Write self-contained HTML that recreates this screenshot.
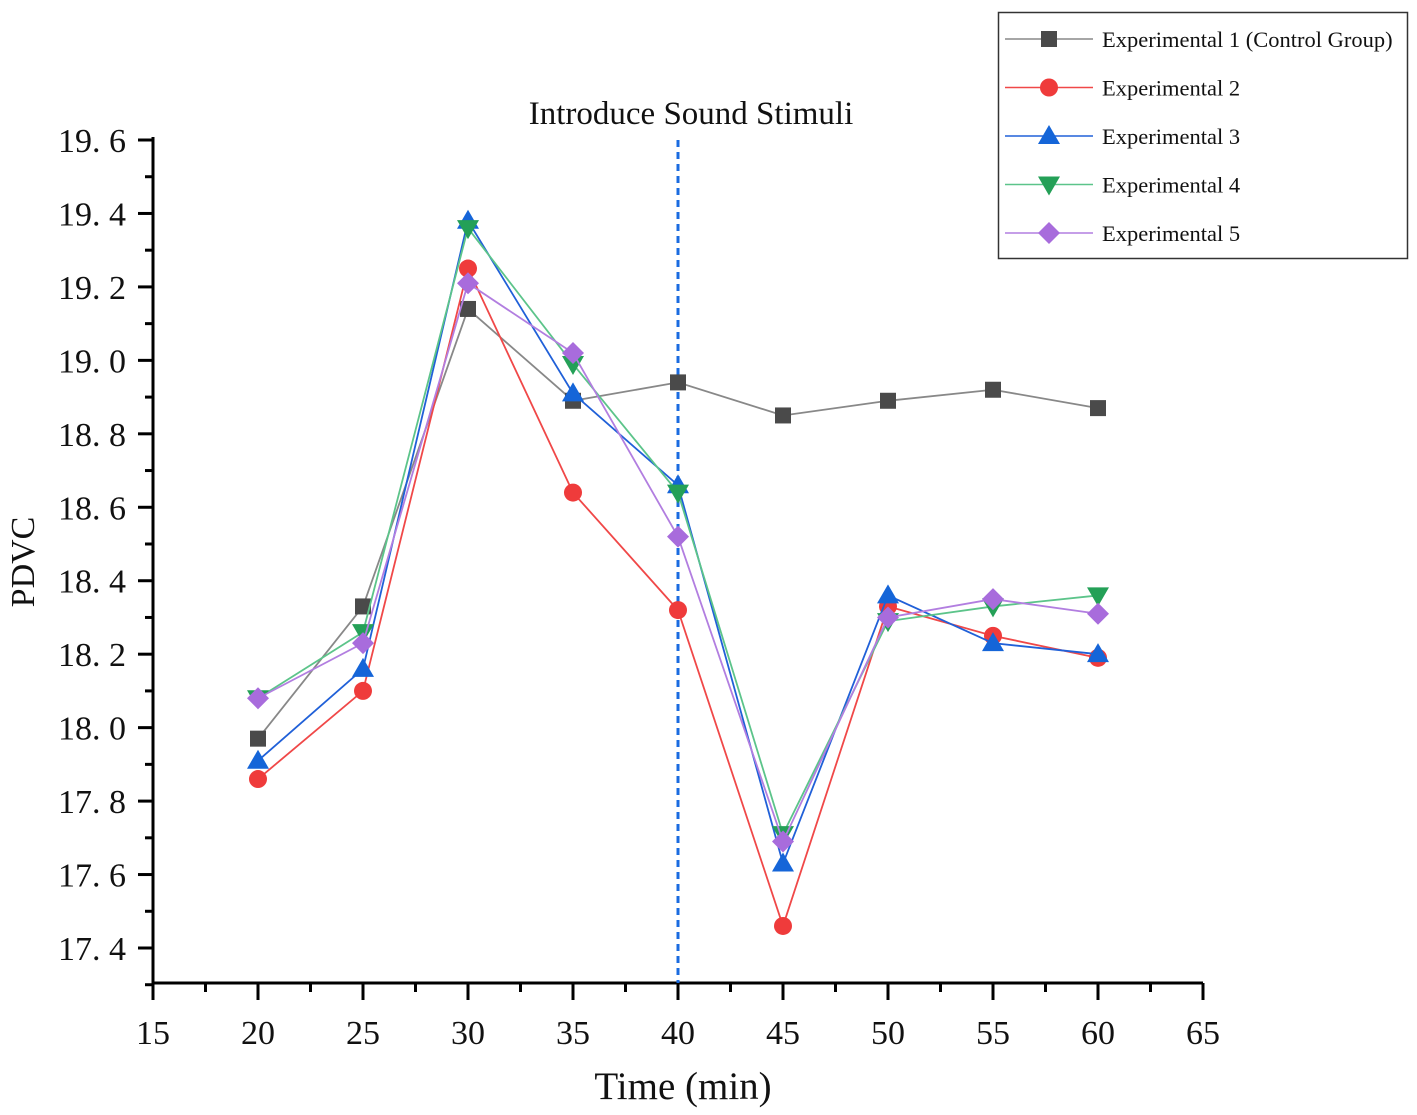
<!DOCTYPE html>
<html><head><meta charset="utf-8"><style>
body{margin:0;background:#fff}
svg{display:block}
text{font-family:"Liberation Serif","Noto Serif CJK SC",serif;fill:#111}
</style></head><body>
<svg id="chart" width="1417" height="1115" viewBox="0 0 1417 1115" xmlns="http://www.w3.org/2000/svg">
<g id="axes"></g>
<g id="series"></g>
<text x="691" y="124" font-size="33" text-anchor="middle">Introduce Sound Stimuli</text>
<text x="683" y="1099" font-size="39" text-anchor="middle">Time (min)</text>
<text x="0" y="0" font-size="34" text-anchor="middle" transform="translate(34,562) rotate(-90)">PDVC</text>
<g id="legend"></g>
</svg>
<script>
const categories=[20,25,30,35,40,45,50,55,60];
const seriesNames=["Experimental 1 (Control Group)","Experimental 2","Experimental 3","Experimental 4","Experimental 5"];
const exp1=[17.97,18.33,19.14,18.89,18.94,18.85,18.89,18.92,18.87];
const exp2=[17.86,18.10,19.25,18.64,18.32,17.46,18.33,18.25,18.19];
const exp3=[17.91,18.16,19.38,18.91,18.66,17.63,18.36,18.23,18.20];
const exp4=[18.08,18.26,19.36,18.99,18.64,17.71,18.29,18.33,18.36];
const exp5=[18.08,18.23,19.21,19.02,18.52,17.69,18.30,18.35,18.31];
const xTicks=[15,20,25,30,35,40,45,50,55,60,65];
const yTicks=[17.4,17.6,17.8,18.0,18.2,18.4,18.6,18.8,19.0,19.2,19.4,19.6];
const yTickLabels=["17. 4","17. 6","17. 8","18. 0","18. 2","18. 4","18. 6","18. 8","19. 0","19. 2","19. 4","19. 6"];
const stimulusTime=40;

const NS="http://www.w3.org/2000/svg";
const X0=153,X1=1203,Y0=983;
const xs=v=>X0+(v-15)*(X1-X0)/50;
const ys=v=>948-(v-17.4)*(948-140)/2.2;
function el(tag,attrs,parent){const e=document.createElementNS(NS,tag);for(const k in attrs)e.setAttribute(k,attrs[k]);parent.appendChild(e);return e;}
const axes=document.getElementById('axes');
let a=el('line',{x1:X0,y1:Y0,x2:X1,y2:Y0,stroke:'#000','stroke-width':3},axes);


a=el('line',{x1:X0,y1:Y0,x2:X0,y2:ys(19.6)-3,stroke:'#000','stroke-width':3},axes);


for(let i=0;i<xTicks.length;i++){
  const x=xs(xTicks[i]);
  el('line',{x1:x,y1:Y0,x2:x,y2:Y0+17,stroke:'#000','stroke-width':3},axes);
  if(i<xTicks.length-1){const xm=xs(xTicks[i]+2.5);el('line',{x1:xm,y1:Y0,x2:xm,y2:Y0+9,stroke:'#000','stroke-width':3},axes);}
  const t=el('text',{x:x,y:1044,'font-size':34,'text-anchor':'middle'},axes);t.textContent=xTicks[i];
  
  
}
for(let i=0;i<yTicks.length;i++){
  const y=ys(yTicks[i]);
  el('line',{x1:X0-15,y1:y,x2:X0,y2:y,stroke:'#000','stroke-width':3},axes);
  const ym=ys(yTicks[i]-0.1);el('line',{x1:X0-8,y1:ym,x2:X0,y2:ym,stroke:'#000','stroke-width':3},axes);
  const t=el('text',{x:126,y:y+12,'font-size':34,'text-anchor':'end'},axes);t.textContent=yTickLabels[i];
  
  
}
const vl=el('line',{x1:xs(stimulusTime),y1:140,x2:xs(stimulusTime),y2:Y0,stroke:'#1a6be0','stroke-width':3,'stroke-dasharray':'7,5'},axes);



const data=[exp1,exp2,exp3,exp4,exp5];
const lineColors=['#888','#f04848','#2060d8','#5cc48a','#b27ee0'];
const markColors=['#4a4a4a','#ef3b3b','#1565d8','#24a057','#a86cdc'];
const shapes=['square','circle','tri','tridown','diamond'];
function marker(g,shape,x,y,c){
  let m;
  if(shape==='square')m=el('rect',{x:x-8,y:y-8,width:16,height:16,fill:c},g);
  else if(shape==='circle')m=el('circle',{cx:x,cy:y,r:9,fill:c},g);
  else if(shape==='tri')m=el('polygon',{points:`${x},${y-11} ${x-11},${y+8} ${x+11},${y+8}`,fill:c},g);
  else if(shape==='tridown')m=el('polygon',{points:`${x},${y+11} ${x-11},${y-8} ${x+11},${y-8}`,fill:c},g);
  else m=el('polygon',{points:`${x},${y-11} ${x+11},${y} ${x},${y+11} ${x-11},${y}`,fill:c},g);
  return m;
}
const sg=document.getElementById('series');
data.forEach((vals,si)=>{
  const g=el('g',{},sg);
  
  
  const pl=el('polyline',{points:vals.map((v,i)=>xs(categories[i])+','+ys(v)).join(' '),fill:'none',stroke:lineColors[si],'stroke-width':1.8},g);
  
  
  vals.forEach((v,i)=>{
    const m=marker(g,shapes[si],xs(categories[i]),ys(v),markColors[si]);
    
    
  });
});
const lg=document.getElementById('legend');
const box=el('rect',{x:998.5,y:12.5,width:409,height:246,fill:'#fff',stroke:'#333','stroke-width':1.5},lg);


seriesNames.forEach((n,i)=>{
  const y=39+i*48.5;
  const g=el('g',{},lg);
  
  
  el('line',{x1:1005,y1:y,x2:1093,y2:y,stroke:lineColors[i],'stroke-width':1.5},g);
  marker(g,shapes[i],1049,y,markColors[i]);
  const t=el('text',{x:1102,y:y+8,'font-size':22.5},g);t.textContent=n;
});
</script>
</body></html>
